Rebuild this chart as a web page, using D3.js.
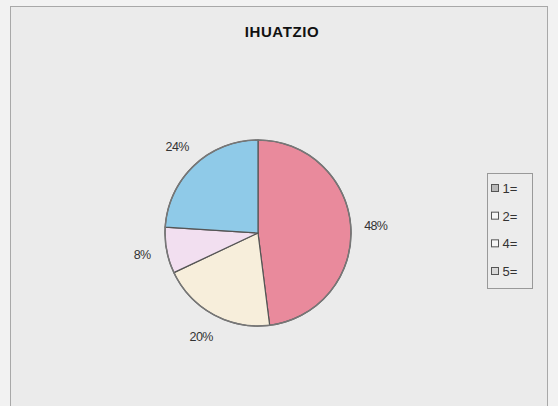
<!DOCTYPE html>
<html><head><meta charset="utf-8">
<script src="https://cdn.jsdelivr.net/npm/d3@7"></script>
<style>body{margin:0;background:#f4f4f4;}svg{display:block;}</style>
</head><body>
<svg id="c" width="558" height="406"></svg>
<script>
const title = "IHUATZIO";
const categories = ["1=", "2=", "4=", "5="];
const values = [48, 20, 8, 24];
const labels = ["48%", "20%", "8%", "24%"];
const colors = ["#e98a9c", "#f7eedb", "#f2dff0", "#8fcae8"];
const swatches = ["#b8b8b8", "#f6f6f6", "#f6f6f6", "#d8d8d8"];

const svg = d3.select("#c");
svg.append("rect").attr("x",0).attr("y",0).attr("width",558).attr("height",406).attr("fill","#f2f2f2");
svg.append("rect").attr("x",10.5).attr("y",6.5).attr("width",537).attr("height",405)
  .attr("fill","#ebebeb").attr("stroke","#a8a8a8").attr("stroke-width",1);

svg.append("text").attr("x",282).attr("y",37).attr("text-anchor","middle")
  .attr("font-family","Liberation Sans, Arial, sans-serif").attr("font-weight","bold")
  .attr("font-size",15).attr("letter-spacing","0.6").attr("fill","#111").text(title);

const cx = 258, cy = 233, r = 93;
const pie = d3.pie().sort(null).value(d=>d)(values);
const arc = d3.arc().innerRadius(0).outerRadius(r);
const g = svg.append("g").attr("transform",`translate(${cx},${cy})`);
g.selectAll("path").data(pie).join("path").attr("d",arc)
  .attr("fill",(d,i)=>colors[i]).attr("stroke","#555").attr("stroke-width",1.2);
g.append("circle").attr("r",r).attr("fill","none").attr("stroke","#777").attr("stroke-width",1.5);

const labelArc = d3.arc().innerRadius(r+25).outerRadius(r+25);
g.selectAll("text.l").data(pie).join("text").attr("class","l")
  .attr("transform",d=>`translate(${labelArc.centroid(d)})`)
  .attr("text-anchor","middle").attr("dy","0.35em")
  .attr("font-family","Liberation Sans, Arial, sans-serif").attr("font-size",12.5)
  .attr("letter-spacing","-0.6").attr("fill","#333").text((d,i)=>labels[i]);

const lg = svg.append("g").attr("transform","translate(487.5,173.5)");
lg.append("rect").attr("width",45).attr("height",115).attr("fill","#ececec").attr("stroke","#999");
const y = d3.scalePoint().domain(categories).range([15,98]);
categories.forEach((c,i)=>{
  lg.append("rect").attr("x",4).attr("y",y(c)-4).attr("width",7).attr("height",7)
    .attr("fill",swatches[i]).attr("stroke","#555").attr("stroke-width",1);
  lg.append("text").attr("x",15).attr("y",y(c)).attr("dy","0.35em")
    .attr("font-family","Liberation Sans, Arial, sans-serif").attr("font-size",13)
    .attr("fill","#333").text(c);
});
</script>
</body></html>
